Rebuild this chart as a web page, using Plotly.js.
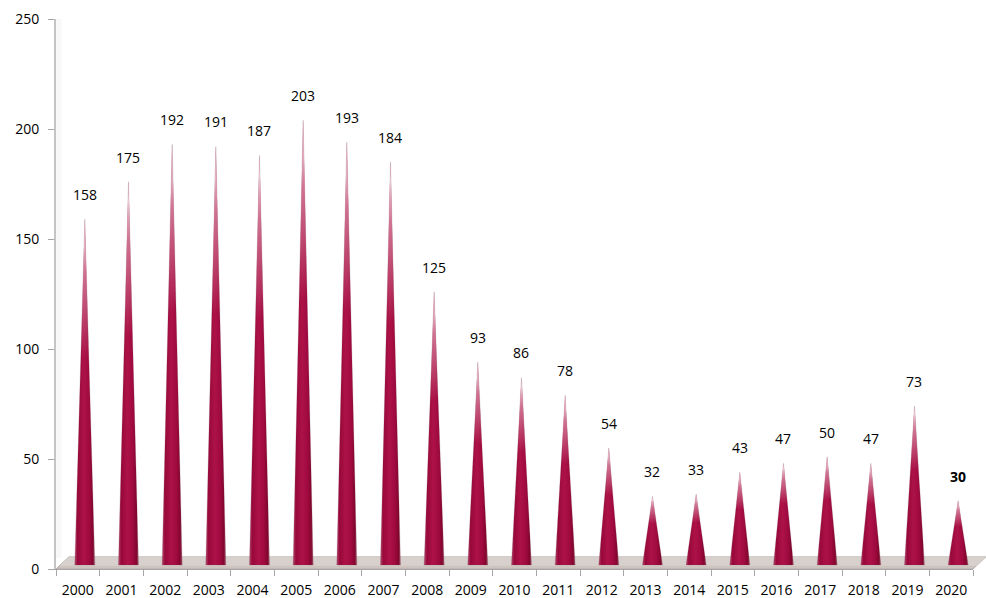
<!DOCTYPE html>
<html>
<head>
<meta charset="utf-8">
<script src="https://cdn.plot.ly/plotly-3.0.1.min.js"></script>
<style>
  html, body { margin: 0; padding: 0; background: #ffffff; }
  #chart { width: 986px; height: 598px; }
</style>
</head>
<body>
<div id="chart"></div>
<script>
// ---- data ----
const years = ['2000','2001','2002','2003','2004','2005','2006','2007','2008','2009','2010',
               '2011','2012','2013','2014','2015','2016','2017','2018','2019','2020'];
const counts = [158, 175, 192, 191, 187, 203, 193, 184, 125, 93, 86,
                78, 54, 32, 33, 43, 47, 50, 47, 73, 30];
const yTicks = [0, 50, 100, 150, 200, 250];

// ---- styling constants ----
const depthDx = 0.16;   // 3D depth shift (category units)
const halfW = 0.23;     // cone half base width (category units)
const baseY = 1.8;      // cone base lift (value units)
const tipLift = 1.0;
const FONT = '"Open Sans", Lato, "Liberation Sans", sans-serif';

const traces = [];
years.forEach((yr, i) => {
  const cx = i + depthDx;
  const v = counts[i];
  const xs = [cx - halfW, cx, cx + halfW, cx - halfW];
  const ys = [baseY, v + tipLift, baseY, baseY];
  traces.push({
    type: 'scatter', mode: 'lines', x: xs, y: ys, fill: 'toself',
    line: { color: 'rgba(120,60,80,0.2)', width: 1 },
    fillgradient: {
      type: 'horizontal',
      colorscale: [[0, '#b24a6e'], [0.14, '#98083a'], [0.45, '#ad1247'],
                   [0.72, '#a00a3f'], [0.9, '#82062e'], [1, '#a0566f']]
    },
    hoverinfo: 'skip', showlegend: false
  });
  traces.push({
    type: 'scatter', mode: 'lines', x: xs, y: ys, fill: 'toself',
    line: { color: 'rgba(0,0,0,0)', width: 0 },
    fillgradient: {
      type: 'vertical',
      colorscale: [[0, 'rgba(255,255,255,0)'], [0.6, 'rgba(255,255,255,0)'],
                   [0.85, 'rgba(255,235,242,0.45)'], [1, 'rgba(255,255,255,0.95)']]
    },
    hoverinfo: 'skip', showlegend: false
  });
});

// dummy trace for the boundary-tick axis
traces.push({ type: 'scatter', mode: 'markers', x: [0], y: [0], xaxis: 'x2',
  marker: { opacity: 0, size: 1 }, hoverinfo: 'skip', showlegend: false });

const centers = years.map((_, i) => i);
const bounds = years.map((_, i) => i - 0.5).concat([years.length - 0.5]);

const annotations = years.map((yr, i) => ({
  x: i + depthDx, y: counts[i], xref: 'x', yref: 'y',
  text: i === years.length - 1 ? '<b>' + counts[i] + '</b>' : String(counts[i]),
  showarrow: false, yanchor: 'middle', yshift: 27,
  font: { family: FONT, size: 14, color: '#000000' }
}));

// 3D floor (paper coordinates)
const shapes = [
  { type: 'path', xref: 'paper', yref: 'paper',
    path: 'M 0,0 L 0.014,0.022 L 1.014,0.022 L 1.0,0 Z',
    fillcolor: '#cdc4c0', line: { color: '#b3adaa', width: 1 }, layer: 'below' },
  { type: 'path', xref: 'paper', yref: 'paper',
    path: 'M 0.004,0.006 L 0.014,0.022 L 1.014,0.022 L 1.004,0.006 Z',
    fillcolor: '#d8d0cc', line: { width: 0 }, layer: 'below' },
  { type: 'rect', xref: 'paper', yref: 'paper', x0: 0, x1: 0.006, y0: 0.02, y1: 1,
    fillcolor: 'rgba(210,210,210,0.15)', line: { width: 0 }, layer: 'below' }
];

const layout = {
  width: 986, height: 598,
  margin: { l: 56, r: 13, t: 19, b: 29 },
  paper_bgcolor: '#ffffff', plot_bgcolor: 'rgba(0,0,0,0)',
  showlegend: false,
  font: { family: FONT, size: 14, color: '#000000' },
  xaxis: {
    range: [-0.5, years.length - 0.5], tickmode: 'array',
    tickvals: centers, ticktext: years,
    ticks: 'outside', ticklen: 6, tickcolor: 'rgba(0,0,0,0)', ticklabelstandoff: 2,
    showline: false, showgrid: false, zeroline: false,
    tickfont: { family: FONT, size: 14, color: '#000000' },
    fixedrange: true
  },
  xaxis2: {
    overlaying: 'x', range: [-0.5, years.length - 0.5], tickmode: 'array',
    tickvals: bounds, ticks: 'outside', ticklen: 6, tickcolor: '#a6a6a6', tickwidth: 1,
    showticklabels: false, showline: true, linecolor: '#a6a6a6', linewidth: 1,
    showgrid: false, zeroline: false, side: 'bottom', fixedrange: true
  },
  yaxis: {
    range: [0, 250], tickmode: 'array', tickvals: yTicks,
    ticks: 'outside', ticklen: 6, tickcolor: '#a6a6a6', ticklabelstandoff: 6,
    showline: true, linecolor: '#c4c4c4', linewidth: 2,
    showgrid: false, zeroline: false,
    tickfont: { family: FONT, size: 14, color: '#000000' },
    fixedrange: true
  },
  shapes: shapes,
  annotations: annotations
};

Plotly.newPlot('chart', traces, layout, { displayModeBar: false, staticPlot: true });
</script>
</body>
</html>
